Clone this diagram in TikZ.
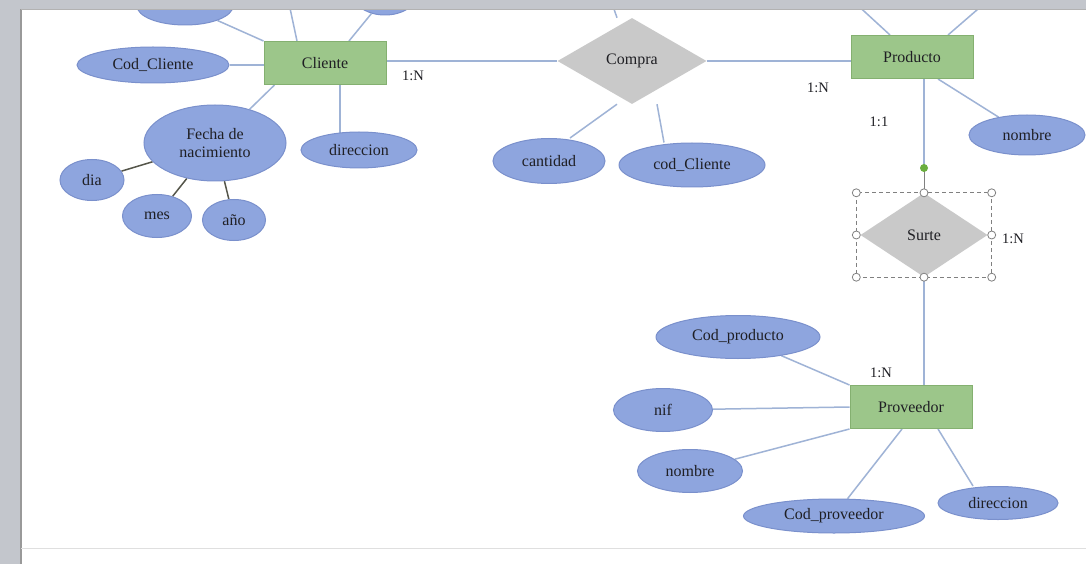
\documentclass[tikz,border=0pt]{standalone}
\usepackage{fontspec}
\setmainfont{Liberation Serif}
\usetikzlibrary{shapes.geometric,backgrounds}
\definecolor{ErBlue}{HTML}{8EA5DE}
\definecolor{ErBlueLine}{HTML}{7A90CC}
\definecolor{ErGreen}{HTML}{9CC68A}
\definecolor{ErGreenLine}{HTML}{84B070}
\definecolor{ErGrey}{HTML}{C9C9C9}
\definecolor{ErLink}{HTML}{9FB3D6}
\definecolor{ErDark}{HTML}{55564A}
\definecolor{ErText}{HTML}{1F1F24}
\definecolor{ErFrame}{HTML}{C3C6CC}
\definecolor{ErGrip}{HTML}{6AAE3E}

\begin{document}
\begin{tikzpicture}[x=1pt,y=-1pt,
    font=\fontsize{16}{18}\selectfont,text=ErText,
    attr/.style={ellipse,draw=ErBlueLine,fill=ErBlue,line width=1pt,inner sep=0pt,align=center},
    entity/.style={rectangle,draw=ErGreenLine,fill=ErGreen,line width=1pt,inner sep=0pt,
      minimum width=122pt,minimum height=43pt},
    rel/.style={diamond,fill=ErGrey,inner sep=0pt},
    card/.style={font=\fontsize{14.5}{16}\selectfont},
    link/.style={draw=ErLink,line width=1.5pt},
    sublink/.style={draw=ErDark,line width=1.5pt},
    handle/.style={draw=gray,fill=white,line width=0.8pt}
  ]
  \useasboundingbox (0,0) rectangle (1086,564);

  \node[entity] (cliente) at (325,63) {Cliente};
  \node[entity] (producto) at (912,57) {Producto};
  \node[entity] (proveedor) at (911,407) {Proveedor};
  \node[rel,minimum width=149pt,minimum height=86pt] (compra) at (632,61) {Compra};
  \node[rel,minimum width=127pt,minimum height=84pt] (surte) at (924,235) {Surte};

  \node[attr,minimum width=96pt,minimum height=38pt] (clitopa) at (185,6) {};
  \node[attr,minimum width=60pt,minimum height=36pt] (clitopb) at (385,-3) {};
  \node[attr,minimum width=152pt,minimum height=36pt] (codcliente) at (153,65) {Cod\_Cliente};
  \node[attr,minimum width=142pt,minimum height=76pt] (fecha) at (215,143) {Fecha de\\nacimiento};
  \node[attr,minimum width=116pt,minimum height=36pt] (direccion) at (359,150) {direccion};
  \node[attr,minimum width=64pt,minimum height=41pt] (dia) at (92,180) {dia};
  \node[attr,minimum width=69pt,minimum height=43pt] (mes) at (157,216) {mes};
  \node[attr,minimum width=63pt,minimum height=41pt] (anio) at (234,220) {año};
  \node[attr,minimum width=112pt,minimum height=45pt] (cantidad) at (549,161) {cantidad};
  \node[attr,minimum width=146pt,minimum height=44pt] (codcompra) at (692,165) {cod\_Cliente};
  \node[attr,minimum width=116pt,minimum height=40pt] (nombreprod) at (1027,135) {nombre};
  \node[attr,minimum width=164pt,minimum height=43pt] (codproducto) at (738,337) {Cod\_producto};
  \node[attr,minimum width=99pt,minimum height=43pt] (nif) at (663,410) {nif};
  \node[attr,minimum width=105pt,minimum height=43pt] (nombreprov) at (690,471) {nombre};
  \node[attr,minimum width=181pt,minimum height=34pt] (codproveedor) at (834,516) {Cod\_proveedor};
  \node[attr,minimum width=120pt,minimum height=33pt] (direccionprov) at (998,503) {direccion};

  \coordinate (clitopc) at (284,-20);
  \coordinate (compratop) at (604,-20);
  \coordinate (prodtopa) at (841,-10);
  \coordinate (prodtopb) at (1000,-10);
  \coordinate (grip) at (924,168);

  \node[card] (cardcli) at (413,76) {1:N};
  \node[card] (cardprod) at (818,88) {1:N};
  \node[card] (cardsurte) at (879,122) {1:1};
  \node[card] (cardsurteb) at (1013,239) {1:N};
  \node[card] (cardprov) at (881,373) {1:N};

  \begin{scope}[on background layer]
    \fill[white] (0,0) rectangle (1086,564);
    \draw[link] (clitopa) -- (cliente.north west);
    \draw[link] (clitopb) -- ([xshift=24pt]cliente.north);
    \draw[link] (clitopc) -- ([xshift=-28pt]cliente.north);
    \draw[link] (codcliente.east) -- (codcliente.east -| cliente.west);
    \draw[link] (fecha) -- ([xshift=11pt]cliente.south west);
    \draw[link] ([xshift=15pt]cliente.south) -- ([xshift=15pt]cliente.south |- direccion.center);
    \draw[sublink] (dia) -- (fecha);
    \draw[sublink] (mes) -- (fecha);
    \draw[sublink] (anio) -- (fecha);
    \draw[link] (cliente.east |- compra.west) -- (compra.west);
    \draw[link] (compra.east) -- (compra.east -| producto.west);
    \draw[link] (compratop) -- ([xshift=-15pt]compra.north);
    \draw[link] ([xshift=21pt]cantidad.north) -- ([xshift=-15pt]compra.south);
    \draw[link] ([xshift=-28pt]codcompra.north) -- ([xshift=25pt]compra.south);
    \draw[link] (prodtopa) -- ([xshift=-22pt]producto.north);
    \draw[link] (prodtopb) -- ([xshift=36pt]producto.north);
    \draw[link] (nombreprod) -- ([xshift=26pt]producto.south);
    \draw[link] (producto.south -| grip) -- (grip);
    \draw[draw=gray,line width=0.8pt] (grip) -- (surte.north);
    \draw[link] (surte.south) -- (surte.south |- proveedor.north);
    \draw[link] (codproducto) -- (proveedor.north west);
    \draw[link] (nif) -- (proveedor.west);
    \draw[link] (nombreprov) -- (proveedor.south west);
    \draw[link] (codproveedor) -- ([xshift=-9pt]proveedor.south);
    \draw[link] ([xshift=-25pt]direccionprov.north) -- ([xshift=27pt]proveedor.south);
  \end{scope}

  \coordinate (selnw) at ([xshift=-4pt]surte.west |- surte.north);
  \coordinate (selse) at ([xshift=4pt]surte.east |- surte.south);
  \draw[gray,line width=0.8pt,dash pattern=on 4pt off 3pt] (selnw) rectangle (selse);
  \foreach \h in {(selnw),(selnw -| surte),(selnw -| selse),(selnw |- surte),
      (selse |- surte),(selse -| selnw),(selse -| surte),(selse)}
    \draw[handle] \h circle (4pt);
  \fill[ErGrip] (grip) circle (4pt);

  \fill[ErFrame] (0,0) rectangle (20,564);
  \fill[ErFrame] (0,0) rectangle (1086,9);
  \draw[gray!80,line width=1.5pt] (21,9) -- (21,564);
  \draw[gray!60,line width=1pt] (21,9.5) -- (1086,9.5);
  \draw[gray!25,line width=1pt] (21,548) -- (1086,548);
\end{tikzpicture}
\end{document}
